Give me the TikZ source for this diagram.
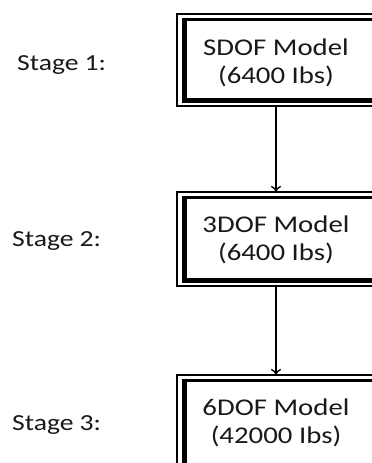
\documentclass[tikz,border=0pt]{standalone}
\usepackage{fontspec}
\newfontfamily\calfont[FakeStretch=1.2]{Carlito}
\usetikzlibrary{arrows.meta,calc}
\begin{document}
\begin{tikzpicture}[x=1pt,y=-1pt,
  frame/.style={minimum width=230pt,inner sep=0pt,outer sep=0pt,anchor=north west},
  outerline/.style={line width=1.3pt,line join=miter},
  boxtext/.style={align=center,font=\calfont\fontsize{24}{28}\selectfont,text=black!90,inner sep=0pt},
  stagetext/.style={anchor=base west,font=\calfont\fontsize{23}{27}\selectfont,text=black!90,inner sep=0pt},
  conn/.style={line width=1.4pt,-{To[length=6pt,width=10pt]}},
  innerthin/.style={line width=3pt},
  innerthick/.style={line width=5pt,line join=miter}]
\useasboundingbox (0,0) rectangle (372,463);
\clip (0,0) rectangle (372,463);
\fill[white] (0,0) rectangle (372,463);

% frames (they run off the right edge of the picture)
\node[frame,minimum height=92pt] (b1) at (177,14) {};
\node[frame,minimum height=94pt] (b2) at (177,192) {};
\node[frame,minimum height=120pt] (b3) at (177,375) {};

\foreach \b in {b1,b2,b3}{
  \draw[outerline] (\b.north east) -- (\b.north west) -- (\b.south west) -- (\b.south east);
  \draw[innerthin] ($(\b.north west)+(7,5)$) -- ($(\b.north east)+(0,5)$);
  \draw[innerthick] ($(\b.north west)+(7,3.5)$) -- ($(\b.south west)+(7,-6)$) -- ($(\b.south east)+(0,-6)$);
}

% texts
\node[boxtext] (t1) at (276,63) {SDOF Model\\(6400 Ibs)};
\node[boxtext] (t2) at (276,240) {3DOF Model\\(6400 Ibs)};
\node[boxtext] (t3) at (276,423) {6DOF Model\\(42000 Ibs)};

\node[stagetext] (s1) at (17,70) {Stage 1:};
\node[stagetext] (s2) at (12,246) {Stage 2:};
\node[stagetext] (s3) at (12,430.5) {Stage 3:};

% connectors
\draw[conn] (b1.south -| t1.center) -- (b2.north -| t1.center);
\draw[conn] (b2.south -| t1.center) -- (b3.north -| t1.center);
\end{tikzpicture}
\end{document}
